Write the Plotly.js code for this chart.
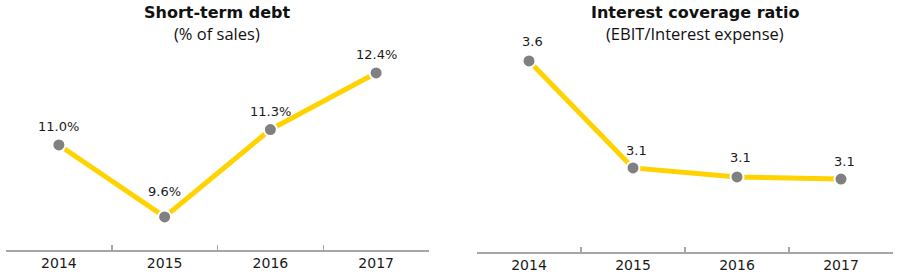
<!DOCTYPE html>
<html>
<head>
<meta charset="utf-8">
<script src="https://cdn.plot.ly/plotly-3.0.1.min.js"></script>
<style>html,body{margin:0;padding:0;background:#fff;}#chart{width:900px;height:279px;}</style>
</head>
<body>
<div id="chart"></div>
<script>
const years = ['2014', '2015', '2016', '2017'];
const debtValues = [11.0, 9.6, 11.3, 12.4];
const coverageValues = [3.62, 3.14, 3.10, 3.09];
const leftTitle = 'Short-term debt';
const leftSubtitle = '(% of sales)';
const rightTitle = 'Interest coverage ratio';
const rightSubtitle = '(EBIT/Interest expense)';

// label offsets above points (pixels)
const debtLabelShift = [18, 25, 18, 18];
const coverageLabelShift = [19, 17, 19, 18];

const lineColor = '#FFD200';
const markerStyle = {size: 13, color: '#808080', line: {color: '#ffffff', width: 2}};
const labelFont = {family: 'DejaVu Sans', size: 13, color: '#1a1a1a'};

const traces = [
  {
    x: years, y: debtValues, xaxis: 'x', yaxis: 'y', type: 'scatter', mode: 'lines+markers',
    line: {color: lineColor, width: 5}, marker: markerStyle, hoverinfo: 'skip', cliponaxis: false
  },
  {
    x: years, y: coverageValues, xaxis: 'x2', yaxis: 'y2', type: 'scatter', mode: 'lines+markers',
    line: {color: lineColor, width: 5}, marker: markerStyle, hoverinfo: 'skip', cliponaxis: false
  }
];

const xCommon = {
  type: 'category', tickson: 'boundaries', ticks: 'inside', ticklen: 5, tickcolor: '#a6a6a6', tickwidth: 1.5,
  showline: true, linecolor: '#a6a6a6', linewidth: 1.5, showgrid: false, zeroline: false,
  range: [-0.5, 3.5], autorange: false,
  tickfont: {family: 'DejaVu Sans', size: 14, color: '#1a1a1a'}, fixedrange: true
};
const yCommon = {visible: false, showgrid: false, zeroline: false, fixedrange: true};

const titleFont = {family: 'DejaVu Sans', size: 16, color: '#111', weight: 700};
const subFont = {family: 'Open Sans', size: 16.5, color: '#111'};

const annotations = [
  {text: '<b>' + leftTitle + '</b>', x: 217/900, yshift: 26, font: titleFont},
  {text: leftSubtitle, x: 217/900, yshift: 5, font: subFont},
  {text: '<b>' + rightTitle + '</b>', x: 695/900, yshift: 26, font: titleFont},
  {text: rightSubtitle, x: 695/900, yshift: 5, font: subFont}
].map(a => Object.assign({xref: 'paper', yref: 'paper', y: 1, xanchor: 'center', yanchor: 'middle', showarrow: false}, a));

years.forEach((yr, i) => {
  annotations.push({xref: 'x', yref: 'y', x: i, y: debtValues[i], text: debtValues[i].toFixed(1) + '%',
    yshift: debtLabelShift[i], showarrow: false, font: labelFont, xanchor: 'center', yanchor: 'middle'});
  annotations.push({xref: 'x2', yref: 'y2', x: i, y: coverageValues[i], text: coverageValues[i].toFixed(1),
    yshift: coverageLabelShift[i], xshift: 3, showarrow: false, font: labelFont, xanchor: 'center', yanchor: 'middle'});
});

const layout = {
  width: 900, height: 279,
  margin: {l: 0, r: 0, t: 38, b: 27},
  paper_bgcolor: '#ffffff', plot_bgcolor: '#ffffff',
  showlegend: false,
  xaxis: Object.assign({}, xCommon, {domain: [6/900, 429/900], anchor: 'y'}),
  xaxis2: Object.assign({}, xCommon, {domain: [477/900, 893/900], anchor: 'y2'}),
  yaxis: Object.assign({}, yCommon, {domain: [2/214, 1], range: [8.957, 13.08], anchor: 'x'}),
  yaxis2: Object.assign({}, yCommon, {domain: [0, 1], range: [2.763, 3.723], anchor: 'x2'}),
  annotations: annotations
};

Plotly.newPlot('chart', traces, layout, {staticPlot: true, displayModeBar: false});
</script>
</body>
</html>
